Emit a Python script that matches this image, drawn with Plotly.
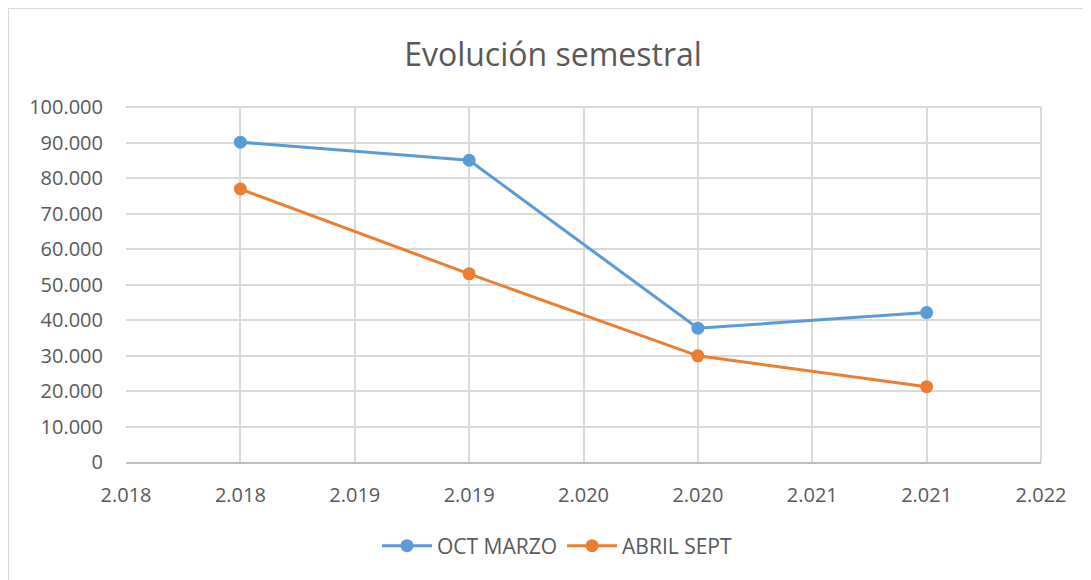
import plotly.graph_objects as go

years = [2018, 2019, 2020, 2021]
oct_marzo = [90100, 85000, 37700, 42100]
abril_sept = [76900, 53000, 29900, 21200]

x_tickvals = [2017.5, 2018.0, 2018.5, 2019.0, 2019.5, 2020.0, 2020.5, 2021.0, 2021.5]
x_ticktext = ["2.018", "2.018", "2.019", "2.019", "2.020", "2.020", "2.021", "2.021", "2.022"]
y_tickvals = [0, 10000, 20000, 30000, 40000, 50000, 60000, 70000, 80000, 90000, 100000]
y_ticktext = ["0", "10.000", "20.000", "30.000", "40.000", "50.000", "60.000",
              "70.000", "80.000", "90.000", "100.000"]

# the page body adds an 8px offset; figure coordinates compensate for it
OFF = 8
W, H = 1091, 580
ml, mt = 126 - OFF, 107 - OFF
mr = W - (1041 - OFF)
mb = H - (462 - OFF)
pw, ph = W - ml - mr, H - mt - mb


def px_x(p):
    return (p - OFF - ml) / pw


def px_y(p):
    return (H - mb - (p - OFF)) / ph


fig = go.Figure()
fig.add_trace(go.Scatter(x=years, y=oct_marzo, name="OCT MARZO", mode="lines+markers",
                         line=dict(color="#5B9BD5", width=3),
                         marker=dict(size=13, color="#5B9BD5")))
fig.add_trace(go.Scatter(x=years, y=abril_sept, name="ABRIL SEPT", mode="lines+markers",
                         line=dict(color="#ED7D31", width=3),
                         marker=dict(size=13, color="#ED7D31")))

fig.update_layout(
    width=W, height=H,
    margin=dict(l=ml, r=mr, t=mt, b=mb),
    paper_bgcolor="white", plot_bgcolor="white",
    font=dict(family="Open Sans, Calibri, sans-serif", color="#595959", size=20),
    title=dict(text="Evolución semestral", x=(553 - OFF) / W, xanchor="center",
               y=1 - (55 - OFF) / H, yanchor="middle",
               font=dict(size=32, color="#595959")),
    showlegend=True,
    legend=dict(orientation="h", x=px_x(557), xanchor="center", y=px_y(546), yanchor="middle",
                font=dict(size=21, color="#595959"), itemwidth=50,
                tracegroupgap=0),
    xaxis=dict(range=[2017.5, 2021.5], tickvals=x_tickvals, ticktext=x_ticktext,
               showgrid=True, gridcolor="#D9D9D9", gridwidth=2, zeroline=False,
               showline=True, linecolor="#BFBFBF", linewidth=2, ticks="",
               ticklabelstandoff=14, tickfont=dict(size=20, color="#595959")),
    yaxis=dict(range=[0, 100000], tickvals=y_tickvals, ticktext=y_ticktext,
               showgrid=True, gridcolor="#D9D9D9", gridwidth=2, zeroline=False,
               showline=False, ticks="", ticklabelstandoff=22,
               tickfont=dict(size=20, color="#595959")),
    shapes=[
        dict(type="line", xref="paper", yref="paper", x0=px_x(8), x1=px_x(W + OFF),
             y0=px_y(8), y1=px_y(8), line=dict(color="#D9D9D9", width=2)),
        dict(type="line", xref="paper", yref="paper", x0=px_x(8), x1=px_x(8),
             y0=px_y(8), y1=px_y(H + OFF), line=dict(color="#D9D9D9", width=2)),
        dict(type="line", xref="paper", yref="paper", x0=1, x1=1, y0=0, y1=1,
             line=dict(color="#D9D9D9", width=2)),
        dict(type="line", xref="paper", yref="paper", x0=0, x1=1, y0=1, y1=1,
             line=dict(color="#D9D9D9", width=2)),
    ],
)

fig.write_html("out.html")
